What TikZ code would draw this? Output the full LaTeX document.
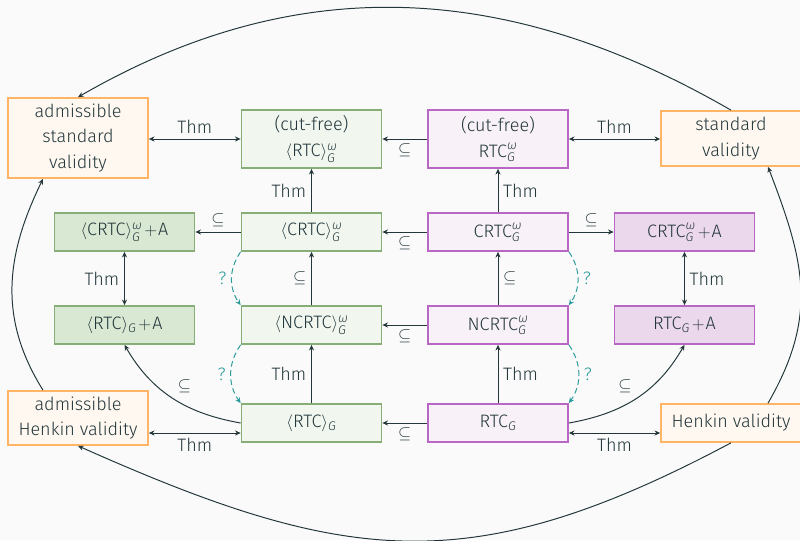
\documentclass[tikz,border=0pt]{standalone}
\usepackage{amsmath,amssymb}
\usepackage{fontspec}
\setmainfont{Fira Sans}[UprightFont={* Light}, ItalicFont={* Light Italic}, BoldFont={* Medium}]
\usetikzlibrary{arrows.meta,positioning}

\definecolor{ink}{HTML}{23373B}
\definecolor{bgcol}{HTML}{FAFAFA}
\definecolor{gline}{HTML}{88AE78}
\definecolor{gfill}{HTML}{F1F6EF}
\definecolor{gdeep}{HTML}{D9E8D3}
\definecolor{pline}{HTML}{B967C4}
\definecolor{pfill}{HTML}{F8F1F8}
\definecolor{pdeep}{HTML}{ECD8EC}
\definecolor{oline}{HTML}{FFB466}
\definecolor{ofill}{HTML}{FFF8F1}
\definecolor{qteal}{HTML}{2A9A9A}

% sub- and superscripts of the calculi
\newcommand{\omG}{^{\text{\itshape ω}}_{\text{\itshape G}}}
\newcommand{\subG}{_{\text{\itshape G}}}
\newcommand{\plusA}{\mskip2mu{+}\mskip1mu\text{A}}

\begin{document}
\begin{tikzpicture}[x=0.025cm, y=-0.025cm, color=ink,
    font=\fontsize{12.8}{18.4}\selectfont,
    >={Stealth[length=4pt,width=3.6pt]},
    box/.style={draw, line width=1.2pt, minimum width=3.5cm, minimum height=0.95cm, align=center, inner sep=2pt},
    gbox/.style={box, draw=gline, fill=gfill},
    gdark/.style={box, draw=gline, fill=gdeep},
    pbox/.style={box, draw=pline, fill=pfill},
    pdark/.style={box, draw=pline, fill=pdeep},
    obox/.style={box, draw=oline, fill=ofill},
    arr/.style={->, line width=0.7pt},
    dbl/.style={<->, line width=0.7pt},
    qarr/.style={->, line width=0.7pt, qteal, dash pattern=on 4pt off 2.5pt},
    qlbl/.style={text=qteal}]
  \useasboundingbox[fill=bgcol] (0,0) rectangle (800,540);

  % validity notions
  \node[obox, minimum height=2cm] (admstd) at (78,138) {admissible\\standard\\validity};
  \node[obox, minimum height=1.375cm] (stdval) at (731,138.5) {standard\\validity};
  \node[obox, minimum height=1.35cm] (admhen) at (78,418) {admissible\\Henkin validity};
  \node[obox] (henval) at (731,423) {Henkin validity};

  % green column
  \node[gbox, minimum height=1.45cm] (cfa) at (311.5,139) {(cut-free)\\$\langle\text{RTC}\rangle\omG$};
  \node[gbox] (crtca) at (311.5,232) {$\langle\text{CRTC}\rangle\omG$};
  \node[gbox] (ncrtca) at (311.5,325) {$\langle\text{NCRTC}\rangle\omG$};
  \node[gbox] (rtca) at (311.5,423) {$\langle\text{RTC}\rangle\subG$};
  \node[gdark] (crtcAa) at (124.5,232) {$\langle\text{CRTC}\rangle\omG\plusA$};
  \node[gdark] (rtcAa) at (124.5,325) {$\langle\text{RTC}\rangle\subG\plusA$};

  % purple column
  \node[pbox, minimum height=1.45cm] (cfb) at (498,139) {(cut-free)\\$\text{RTC}\omG$};
  \node[pbox] (crtcb) at (498,232) {$\text{CRTC}\omG$};
  \node[pbox] (ncrtcb) at (498,325) {$\text{NCRTC}\omG$};
  \node[pbox] (rtcb) at (498,423) {$\text{RTC}\subG$};
  \node[pdark] (crtcAb) at (684.5,232) {$\text{CRTC}\omG\plusA$};
  \node[pdark] (rtcAb) at (684.5,325) {$\text{RTC}\subG\plusA$};

  \coordinate (lowa) at ([yshift=-0.25cm]rtca.west);
  \coordinate (lowb) at ([yshift=-0.25cm]rtcb.east);

  % top row
  \draw[dbl] (cfa.west -| admstd.east) -- (cfa.west) node[midway, above] {Thm};
  \draw[arr] (cfb) -- (cfa) node[midway, below] {$\subseteq$};
  \draw[dbl] (cfb.east) -- (cfb.east -| stdval.west) node[midway, above] {Thm};

  % vertical arrows
  \draw[arr] (crtca) -- (cfa) node[midway, left] {Thm};
  \draw[arr] (crtcb) -- (cfb) node[midway, right] {Thm};
  \draw[arr] (ncrtca) -- (crtca) node[midway, left] {$\subseteq$};
  \draw[arr] (ncrtcb) -- (crtcb) node[midway, right] {$\subseteq$};
  \draw[arr] (rtca) -- (ncrtca) node[midway, left] {Thm};
  \draw[arr] (rtcb) -- (ncrtcb) node[midway, right] {Thm};
  \draw[dbl] (crtcAa) -- (rtcAa) node[midway, left] {Thm};
  \draw[dbl] (crtcAb) -- (rtcAb) node[midway, right] {Thm};

  % horizontal arrows
  \draw[arr] (crtca) -- (crtcAa) node[midway, above] {$\subseteq$};
  \draw[arr] (crtcb) -- (crtca) node[midway, below] {$\subseteq$};
  \draw[arr] (crtcb) -- (crtcAb) node[midway, above] {$\subseteq$};
  \draw[arr] (ncrtcb) -- (ncrtca) node[midway, below] {$\subseteq$};
  \draw[arr] (rtcb) -- (rtca) node[midway, below] {$\subseteq$};
  \draw[dbl] (lowa -| admhen.east) -- (lowa) node[midway, below] {Thm};
  \draw[dbl] (lowb) -- (lowb -| henval.west) node[midway, below] {Thm};

  % open questions
  \draw[qarr] (crtca.south west) to[bend right=35] node[left, qlbl] {?} (ncrtca.north west);
  \draw[qarr] (ncrtca.south west) to[bend right=35] node[left, qlbl] {?} (rtca.north west);
  \draw[qarr] (crtcb.south east) to[bend left=35] node[right, qlbl] {?} (ncrtcb.north east);
  \draw[qarr] (ncrtcb.south east) to[bend left=35] node[right, qlbl] {?} (rtcb.north east);

  % curved inclusions
  \draw[arr] (rtca.west) to[out=170, in=-60] node[pos=0.5, above right] {$\subseteq$} (rtcAa.south);
  \draw[arr] (rtcb.east) to[out=10, in=-120] node[pos=0.5, above left] {$\subseteq$} (rtcAb.south);

  % outer loop
  \draw[arr] (stdval.north) to[out=150, in=30] (admstd.north);
  \draw[arr] ([xshift=-0.875cm]admhen.north) to[out=122, in=-116, looseness=1.03] ([xshift=-0.875cm]admstd.south);
  \draw[arr] (henval.south) to[out=-152, in=-24, looseness=1.15] (admhen.south);
  \draw[arr] ([xshift=0.925cm]henval.north) to[out=60, in=-69, looseness=1.1] ([xshift=0.925cm]stdval.south);
\end{tikzpicture}
\end{document}
